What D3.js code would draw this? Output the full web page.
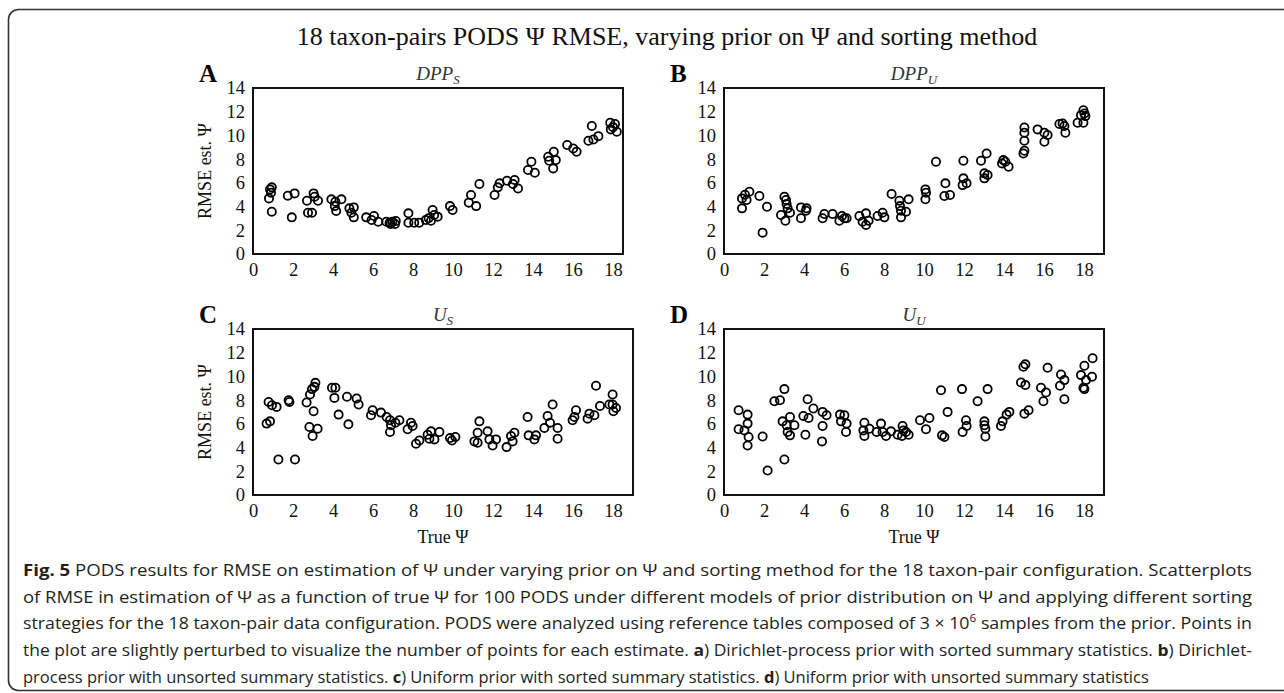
<!DOCTYPE html>
<html>
<head>
<meta charset="utf-8">
<script src="https://cdn.jsdelivr.net/npm/d3@7"></script>
<style>
  body { margin: 0; background: #fff; }
  svg { display: block; }
  .serif { font-family: "Liberation Serif", "Times New Roman", serif; }
  .cap { font-family: "Open Sans", "Noto Sans", sans-serif; fill: #231f20; }
</style>
</head>
<body>
<svg id="fig" width="1284" height="693"></svg>
<script>
// ---- data ----
var xTicks = [0, 2, 4, 6, 8, 10, 12, 14, 16, 18];
var yTicks = [0, 2, 4, 6, 8, 10, 12, 14];
var panelLetters = ["A", "B", "C", "D"];
var panelTitles = [["DPP", "S"], ["DPP", "U"], ["U", "S"], ["U", "U"]];

// [true psi, RMSE est. psi]
var pointsDppS = [
  [0.94,5.62],[0.85,5.45],[0.9,5.17],[0.8,4.69],[0.94,3.57],
  [1.74,4.92],[2.08,5.11],[1.94,3.09],
  [2.70,4.49],[3.03,5.11],[3.08,4.83],[3.25,4.49],[2.75,3.48],[2.95,3.48],
  [3.92,4.61],[4.12,4.41],[4.42,4.61],[4.09,4.04],[4.16,3.62],
  [4.82,3.85],[5.04,3.93],[5.04,3.09],[4.92,3.48],
  [5.66,3.09],[6.05,3.20],[5.93,2.87],[6.26,2.72],
  [6.67,2.72],[6.83,2.64],[6.97,2.72],[7.10,2.53],[6.88,2.53],[7.14,2.78],
  [7.77,3.43],[7.77,2.64],[8.06,2.64],[8.31,2.64],
  [8.64,2.87],[8.78,3.01],[8.98,3.71],[9.06,3.29],[9.23,3.15],[8.9,2.81],
  [9.85,4.04],[9.98,3.71],
  [10.9,4.97],[10.79,4.33],[11.16,4.04],[11.32,5.90],
  [12.08,4.97],[12.24,5.62],[12.33,5.96],
  [12.70,6.18],[13.08,6.24],[13.25,5.53],[13.0,5.9],
  [13.75,7.08],[13.92,7.78],[14.09,6.85],
  [14.76,8.20],[14.81,7.87],[15.04,8.62],[15.14,7.92],[15.01,7.22],
  [15.71,9.19],[16.01,8.90],[16.18,8.62],
  [16.77,9.55],[16.94,10.79],[17.02,9.66],[17.27,9.94],
  [17.86,11.07],[18.1,10.96],[17.89,10.51],[18.19,10.31],[18.0,10.7]
];
var pointsDppU = [
  [0.9,4.69],[0.9,3.85],[1.13,4.55],[1.27,5.25],[1.05,5.0],
  [1.77,4.89],[2.15,3.99],[1.93,1.80],
  [2.85,3.29],[3.02,4.83],[3.1,4.55],[3.13,4.21],[3.18,3.85],[3.07,2.81],[3.3,3.48],
  [3.85,3.93],[4.1,3.65],[4.13,3.85],[3.85,3.01],
  [4.93,3.01],[5.02,3.37],[5.43,3.37],
  [5.77,2.81],[5.9,3.20],[6.02,3.01],[6.13,3.01],
  [6.77,3.20],[6.93,2.72],[7.1,2.44],[7.1,3.43],[7.23,2.81],
  [7.68,3.20],[7.93,3.48],[8.02,3.09],
  [8.38,5.06],
  [8.77,4.49],[8.8,4.04],[8.85,3.65],[8.85,3.09],[9.1,3.57],[9.23,4.61],
  [10.07,5.45],[10.1,5.17],[10.07,4.61],
  [10.6,7.78],[11.07,5.96],[11.02,4.89],[11.3,4.97],
  [11.97,7.87],[11.97,6.38],[11.93,5.81],[12.13,5.96],
  [12.85,7.87],[13.13,8.48],[13.02,6.80],[13.02,6.38],[13.18,6.66],
  [13.97,7.92],[14.07,7.78],[13.9,7.64],[14.23,7.36],
  [14.97,8.48],[15.02,8.71],[15.02,9.55],[15.02,10.22],[15.02,10.67],
  [15.68,10.51],[16.02,10.22],[16.02,9.47],[16.18,10.03],
  [16.77,10.96],[16.93,11.01],[17.02,10.79],[17.07,10.22],
  [17.68,11.07],[17.85,11.71],[17.97,12.13],[18.02,11.85],[18.07,11.63],[17.97,11.07]
];
var pointsUS = [
  [0.68,6.02],[0.85,6.21],[0.78,7.85],[0.95,7.57],[1.18,7.43],[1.27,2.99],
  [1.78,7.99],[1.82,7.85],[2.1,2.99],
  [2.68,7.80],[2.85,8.47],[2.95,8.93],[3.07,9.12],[3.12,9.46],[3.03,7.06],[2.82,5.73],[2.98,4.97],[3.23,5.59],
  [3.95,9.04],[4.12,9.04],[4.07,8.19],[4.28,6.78],
  [4.7,8.28],[4.77,5.96],[5.18,8.14],[5.28,7.63],
  [5.9,6.72],[5.98,7.15],[6.4,6.95],[6.68,6.58],
  [6.85,6.30],[6.9,5.88],[6.85,5.31],[7.12,6.10],[7.32,6.30],
  [7.9,6.10],[7.98,5.82],[7.73,5.54],[8.15,4.32],[8.32,4.60],
  [8.73,5.08],[8.9,5.37],[8.82,4.75],[9.07,4.69],[9.32,5.31],
  [9.85,4.80],[9.95,4.60],[10.12,4.89],
  [11.07,4.52],[11.23,5.25],[11.32,6.21],[11.23,4.41],
  [11.73,5.37],[11.82,4.69],[11.98,4.18],[12.15,4.69],
  [12.68,4.04],[12.9,4.97],[12.98,4.52],[13.07,5.25],
  [13.73,6.58],[13.78,5.03],[14.07,4.69],[14.15,5.03],
  [14.57,5.65],[14.73,6.67],[14.85,6.10],[14.98,7.63],[15.23,5.65],[15.23,4.75],
  [15.98,6.30],[16.07,6.58],[16.15,7.15],
  [16.73,6.44],[16.82,6.86],[17.07,6.72],[17.15,9.21],[17.35,7.51],
  [17.82,7.63],[17.98,8.47],[17.98,7.63],[18.02,7.06],[18.15,7.34]
];
var pointsUU = [
  [0.73,7.15],[0.73,5.54],[1.02,5.45],[1.18,6.78],[1.18,6.02],[1.23,4.89],[1.18,4.18],
  [1.93,4.94],[2.18,2.06],[2.52,7.91],[2.8,7.99],[3.02,8.93],[3.02,2.99],
  [2.93,6.21],[3.13,5.88],[3.18,5.31],[3.3,5.03],[3.3,6.58],[3.52,5.88],
  [3.97,6.67],[4.07,5.08],[4.18,8.08],[4.23,6.50],[4.47,7.29],
  [4.93,7.01],[4.93,5.82],[4.9,4.52],[5.13,6.72],
  [5.8,6.78],[6.02,6.72],[5.85,6.21],[6.13,6.02],[6.1,5.31],
  [7.02,6.10],[6.97,5.45],[7.02,4.97],[7.27,5.59],
  [7.63,5.31],[7.85,6.02],[7.93,5.31],[8.1,4.97],[8.35,5.37],
  [8.68,5.08],[8.93,5.82],[8.97,5.45],[8.9,4.97],[9.1,5.31],[9.23,5.08],
  [9.8,6.30],[10.1,5.54],[10.27,6.50],
  [10.85,8.84],[10.9,5.03],[11.02,4.89],[11.18,7.01],
  [11.9,8.93],[11.93,5.31],[12.1,6.30],[12.13,5.82],
  [12.68,7.91],[13.02,6.21],[13.02,5.88],[13.07,5.59],[13.07,4.94],[13.18,8.93],
  [13.85,5.82],[13.93,6.21],[14.13,6.78],[14.27,7.01],
  [14.85,9.49],[14.97,10.82],[15.07,11.02],[15.07,9.27],[15.02,6.86],[15.23,7.15],
  [15.85,9.04],[15.97,7.91],[16.1,8.64],[16.18,10.73],
  [16.85,10.17],[16.8,9.21],[17.02,9.69],[17.02,8.08],
  [17.85,10.11],[18.02,10.9],[17.97,9.04],[18.02,8.93],[18.1,9.69],[18.4,9.97],[18.43,11.53]
];
var panelPoints = [pointsDppS, pointsDppU, pointsUS, pointsUU];

var mainTitle = "18 taxon-pairs PODS \u03A8 RMSE, varying prior on \u03A8 and sorting method";
var yLabel = "RMSE est. \u03A8";
var xLabel = "True \u03A8";

// caption lines, segments [text, bold]
var captionLines = [
  [["Fig. 5", true], [" PODS results for RMSE on estimation of \u03A8 under varying prior on \u03A8 and sorting method for the 18 taxon-pair configuration. Scatterplots", false]],
  [["of RMSE in estimation of \u03A8 as a function of true \u03A8 for 100 PODS under different models of prior distribution on \u03A8 and applying different sorting", false]],
  [["strategies for the 18 taxon-pair data configuration. PODS were analyzed using reference tables composed of 3 \u00D7 10", false], ["6", "sup"], [" samples from the prior. Points in", false]],
  [["the plot are slightly perturbed to visualize the number of points for each estimate. ", false], ["a", true], [") Dirichlet-process prior with sorted summary statistics. ", false], ["b", true], [") Dirichlet-", false]],
  [["process prior with unsorted summary statistics. ", false], ["c", true], [") Uniform prior with sorted summary statistics. ", false], ["d", true], [") Uniform prior with unsorted summary statistics", false]]
];

// ---- layout ----
var svg = d3.select("#fig");
var colX = [253, 724];
var rowY = [88, 329];
var boxH = 166;
var unitW = 20;
var xMaxes = [18.5, 19, 19, 19];

// outer rounded frame (runs past the right edge)
svg.append("rect")
  .attr("x", 8.5).attr("y", 9.5)
  .attr("width", 1300).attr("height", 681)
  .attr("rx", 10)
  .attr("fill", "none")
  .attr("stroke", "#333")
  .attr("stroke-width", 1.6);

svg.append("text")
  .attr("class", "serif")
  .attr("x", 667).attr("y", 45)
  .attr("text-anchor", "middle")
  .attr("font-size", 26)
  .attr("fill", "#111")
  .text(mainTitle);

var drawPanel = function(i) {
  var col = i % 2, row = Math.floor(i / 2);
  var w = unitW * xMaxes[i];
  var g = svg.append("g")
    .attr("transform", "translate(" + colX[col] + "," + rowY[row] + ")");

  var x = d3.scaleLinear().domain([0, xMaxes[i]]).range([0, w]);
  var y = d3.scaleLinear().domain([0, 14]).range([boxH, 0]);

  var xAxis = g.append("g")
    .attr("transform", "translate(0," + boxH + ")")
    .call(d3.axisBottom(x).tickValues(xTicks).tickSize(0).tickPadding(9));
  var yAxis = g.append("g")
    .call(d3.axisLeft(y).tickValues(yTicks).tickSize(0).tickPadding(8));
  [xAxis, yAxis].forEach(function(a) {
    a.select(".domain").remove();
    a.selectAll("text")
      .attr("class", "serif")
      .attr("font-size", 18.5)
      .attr("fill", "#111");
  });

  g.selectAll("circle.pt")
    .data(panelPoints[i])
    .enter().append("circle")
    .attr("class", "pt")
    .attr("cx", function(d) { return x(d[0]); })
    .attr("cy", function(d) { return y(d[1]); })
    .attr("r", 4.1)
    .attr("fill", "none")
    .attr("stroke", "#000")
    .attr("stroke-width", 1.8);

  g.append("rect")
    .attr("width", w).attr("height", boxH)
    .attr("fill", "none")
    .attr("stroke", "#111")
    .attr("stroke-width", 2);

  // panel letter
  g.append("text")
    .attr("class", "serif")
    .attr("x", -54).attr("y", -6)
    .attr("font-size", 25)
    .attr("font-weight", "bold")
    .attr("fill", "#000")
    .text(panelLetters[i]);

  // panel title with subscript
  var t = g.append("text")
    .attr("class", "serif")
    .attr("x", w / 2).attr("y", -8)
    .attr("text-anchor", "middle")
    .attr("font-size", 19)
    .attr("font-style", "italic")
    .attr("fill", "#333");
  t.append("tspan").text(panelTitles[i][0]);
  t.append("tspan")
    .attr("font-size", 13)
    .attr("dy", 4)
    .text(panelTitles[i][1]);

  if (col == 0) {
    g.append("text")
      .attr("class", "serif")
      .attr("transform", "translate(-42," + (boxH / 2) + ") rotate(-90)")
      .attr("text-anchor", "middle")
      .attr("font-size", 18)
      .attr("fill", "#111")
      .text(yLabel);
  }
  if (row == 1) {
    g.append("text")
      .attr("class", "serif")
      .attr("x", w / 2).attr("y", boxH + 48)
      .attr("text-anchor", "middle")
      .attr("font-size", 18)
      .attr("fill", "#111")
      .text(xLabel);
  }
};

for (var i = 0; i < 4; i++) {
  drawPanel(i);
}

// caption
var capY = [576, 603, 629, 656, 683];
captionLines.forEach(function(line, k) {
  var t = svg.append("text")
    .attr("class", "cap")
    .attr("x", 23).attr("y", capY[k])
    .attr("font-size", 16.5);
  line.forEach(function(seg) {
    var s = t.append("tspan").text(seg[0]);
    if (seg[1] === true) s.attr("font-weight", "bold");
    if (seg[1] === "sup") {
      s.attr("font-size", 11).attr("dy", -7);
    }
  });
  // re-align after superscript
  if (k == 2) {
    t.selectAll("tspan").filter(function(d, j) { return j == 2; }).attr("dy", 7);
  }
  if (k < 4) {
    t.attr("textLength", 1229).attr("lengthAdjust", "spacingAndGlyphs");
  }
});
</script>
</body>
</html>
